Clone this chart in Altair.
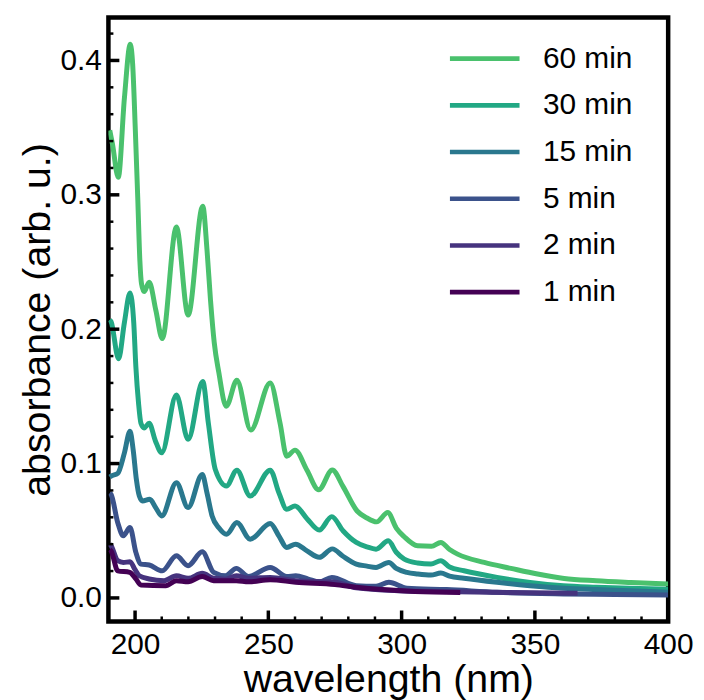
import altair as alt
import pandas as pd

# ---- data ----
series_names = ["60 min", "30 min", "15 min", "5 min", "2 min", "1 min"]
series_colors = ["#4ac16d", "#22a884", "#2a788e", "#3b528b", "#46337e", "#440154"]

wl_60 = [190.5, 191.5, 193.7, 196.0, 198.2, 199.1, 200.1, 201.0, 201.8, 202.4, 203.4, 205.3, 207.8, 210.2,
         215.5, 219.9, 225.4, 227.0, 228.3, 229.7, 231.4, 234.2, 238.2, 243.4, 250.7, 254.4, 256.9, 260.0,
         264.5, 268.9, 274.0, 278.0, 283.3, 287.0, 290.6, 294.8, 298.0, 301.0, 306.0, 311.2, 314.7, 318.0,
         321.0, 331.0, 341.0, 351.0, 361.0, 373.0, 386.0, 400.0]
ab_60 = [0.348, 0.338, 0.313, 0.372, 0.412, 0.397, 0.348, 0.298, 0.251, 0.234, 0.228, 0.235, 0.214, 0.193,
         0.276, 0.2105, 0.2916, 0.2587, 0.2216, 0.190, 0.168, 0.1426, 0.162, 0.125, 0.160, 0.130, 0.1055, 0.110,
         0.095, 0.0805, 0.0952, 0.083, 0.0647, 0.0595, 0.0566, 0.0635, 0.052, 0.0455, 0.0388, 0.0385, 0.0413, 0.036,
         0.0326, 0.0264, 0.022, 0.0178, 0.0145, 0.0128, 0.0115, 0.0103]

wl_30 = [190.5, 191.0, 193.8, 196.0, 198.1, 199.5, 200.3, 201.3, 202.2, 203.4, 205.3, 207.6, 210.0, 215.5,
         219.9, 225.4, 227.5, 230.1, 234.3, 238.2, 243.2, 250.7, 254.0, 256.9, 260.0, 264.5, 269.1, 273.8,
         278.0, 283.0, 287.0, 290.4, 295.0, 298.0, 301.0, 306.0, 311.0, 314.7, 318.0, 323.4, 335.8, 348.2,
         360.7, 373.0, 385.5, 400.0]
ab_30 = [0.207, 0.2056, 0.178, 0.205, 0.227, 0.205, 0.172, 0.145, 0.130, 0.1265, 0.130, 0.117, 0.108, 0.151,
         0.118, 0.161, 0.130, 0.0956, 0.0833, 0.0951, 0.0758, 0.0951, 0.078, 0.066, 0.0684, 0.059, 0.0505, 0.0605,
         0.050, 0.0413, 0.038, 0.0363, 0.0425, 0.034, 0.0289, 0.026, 0.0252, 0.0277, 0.023, 0.0202, 0.0153, 0.0116,
         0.0091, 0.0080, 0.0072, 0.0065]

wl_15 = [190.5, 191.0, 193.5, 196.0, 198.1, 199.3, 200.5, 201.6, 202.8, 205.5, 207.8, 210.0, 215.5, 219.9,
         225.2, 227.0, 228.9, 231.5, 234.3, 238.2, 243.2, 250.7, 254.0, 256.9, 260.2, 264.5, 269.1, 274.0,
         278.0, 283.0, 287.0, 290.4, 295.2, 298.0, 302.0, 306.0, 311.0, 314.7, 318.0, 323.4, 335.8, 348.2,
         360.7, 373.0, 385.5, 400.0]
ab_15 = [0.090, 0.0907, 0.0927, 0.108, 0.124, 0.110, 0.088, 0.0758, 0.0722, 0.0734, 0.067, 0.061, 0.0858, 0.0672,
         0.0919, 0.078, 0.061, 0.052, 0.0474, 0.0561, 0.0437, 0.0554, 0.046, 0.0376, 0.040, 0.035, 0.0302, 0.0365,
         0.031, 0.0252, 0.0237, 0.0227, 0.0264, 0.022, 0.019, 0.0178, 0.017, 0.0185, 0.0162, 0.0146, 0.0116, 0.0091,
         0.0072, 0.0062, 0.0054, 0.0042]

wl_5 = [190.5, 191.0, 193.5, 195.6, 198.1, 200.3, 202.2, 205.3, 210.2, 215.5, 219.9, 225.2, 229.5, 233.9,
        238.0, 242.6, 250.7, 256.9, 260.3, 265.0, 269.1, 273.8, 283.0, 290.4, 295.2, 302.0, 316.9, 335.8,
        360.7, 380.0, 400.0]
ab_5 = [0.078, 0.077, 0.056, 0.0462, 0.0524, 0.0339, 0.0252, 0.0245, 0.0202, 0.0314, 0.024, 0.0343, 0.019, 0.0165,
        0.022, 0.016, 0.0227, 0.016, 0.0165, 0.014, 0.012, 0.0153, 0.0091, 0.0087, 0.0116, 0.0072, 0.0062, 0.0042,
        0.0030, 0.0025, 0.0022]

wl_2 = [190.5, 191.0, 193.5, 195.6, 198.1, 200.0, 201.6, 205.3, 210.9, 215.5, 219.9, 225.2, 229.5, 234.0,
        238.0, 242.6, 250.7, 260.3, 275.0, 283.0, 298.6, 316.9, 340.0, 366.0]
ab_2 = [0.040, 0.0388, 0.0277, 0.0264, 0.0269, 0.021, 0.0165, 0.0141, 0.0128, 0.0165, 0.0146, 0.0183, 0.0146, 0.014,
        0.0165, 0.0146, 0.0153, 0.0128, 0.0116, 0.0075, 0.0054, 0.0047, 0.0040, 0.0035]

wl_1 = [190.5, 191.0, 193.5, 198.0, 200.3, 202.2, 211.5, 215.5, 219.9, 225.2, 229.5, 238.0, 242.6, 250.7,
        260.3, 275.0, 283.0, 305.0, 322.0]
ab_1 = [0.036, 0.035, 0.0202, 0.019, 0.0141, 0.0096, 0.0091, 0.0128, 0.012, 0.016, 0.0128, 0.0128, 0.012, 0.0136,
        0.0116, 0.0099, 0.0079, 0.0048, 0.0040]

y_major = [0.0, 0.1, 0.2, 0.3, 0.4]
y_minor = [0.02, 0.04, 0.06, 0.08, 0.12, 0.14, 0.16, 0.18, 0.22, 0.24, 0.26, 0.28, 0.32, 0.34, 0.36, 0.38, 0.42]
x_major = [200, 250, 300, 350, 400]
x_minor = [210, 220, 230, 240, 260, 270, 280, 290, 310, 320, 330, 340, 360, 370, 380, 390]

# ---- build tables ----
all_wl = [wl_60, wl_30, wl_15, wl_5, wl_2, wl_1]
all_ab = [ab_60, ab_30, ab_15, ab_5, ab_2, ab_1]
rows = []
for name, wls, abs_ in zip(series_names, all_wl, all_ab):
    for w, a in zip(wls, abs_):
        rows.append({"series": name, "wl": w, "A": a})
df = pd.DataFrame(rows)

W, H = 563, 607.5
FONT = "Liberation Sans"

xscale = alt.Scale(domain=[190, 400], nice=False, zero=False)
yscale = alt.Scale(domain=[-0.0175, 0.432], nice=False, zero=False)

lines = alt.Chart(df).mark_line(strokeWidth=5, interpolate="monotone", clip=True).encode(
    x=alt.X("wl:Q", scale=xscale,
            axis=alt.Axis(title="wavelength (nm)", values=x_major, format="d", ticks=False, domain=False,
                          grid=False, labelFontSize=30, labelFont=FONT, labelColor="black", labelPadding=8,
                          titleFontSize=39.5, titleFont=FONT, titleFontWeight="normal", titleColor="black",
                          titlePadding=1, labelFlush=False)),
    y=alt.Y("A:Q", scale=yscale,
            axis=alt.Axis(title="absorbance (arb. u.)", values=y_major, format=".1f", ticks=False, domain=False,
                          grid=False, labelFontSize=30, labelFont=FONT, labelColor="black", labelPadding=7,
                          titleFontSize=39.5, titleFont=FONT, titleFontWeight="normal", titleColor="black",
                          titlePadding=3, labelFlush=False)),
    color=alt.Color("series:N", scale=alt.Scale(domain=series_names, range=series_colors),
                    legend=alt.Legend(title=None, orient="none", legendX=341, legendY=18,
                                      symbolType="stroke", symbolSize=4900, symbolStrokeWidth=4.7,
                                      labelFontSize=30, labelFont=FONT, labelColor="black",
                                      labelOffset=21, clipHeight=46.7, rowPadding=0, padding=0)),
    detail="series:N",
)

ymaj = alt.Chart(pd.DataFrame({"v": y_major})).mark_rule(color="black", strokeWidth=3.5).encode(
    y=alt.Y("v:Q", scale=yscale), x=alt.value(0), x2=alt.value(11))
ymin = alt.Chart(pd.DataFrame({"v": y_minor})).mark_rule(color="black", strokeWidth=2.5).encode(
    y=alt.Y("v:Q", scale=yscale), x=alt.value(0), x2=alt.value(5))
xmaj = alt.Chart(pd.DataFrame({"v": x_major})).mark_rule(color="black", strokeWidth=3.5).encode(
    x=alt.X("v:Q", scale=xscale), y=alt.value(H), y2=alt.value(H - 11))
xmin = alt.Chart(pd.DataFrame({"v": x_minor})).mark_rule(color="black", strokeWidth=2.5).encode(
    x=alt.X("v:Q", scale=xscale), y=alt.value(H), y2=alt.value(H - 5))

chart = alt.layer(lines, ymaj, ymin, xmaj, xmin).properties(
    width=W, height=H,
    background="white",
    autosize=alt.AutoSizeParams(type="none"),
    padding={"left": 101, "top": 7.5, "right": 28, "bottom": 77},
).configure_view(stroke="black", strokeWidth=4.5)

chart.save("out.html", embed_options={"renderer": "svg", "actions": False})
